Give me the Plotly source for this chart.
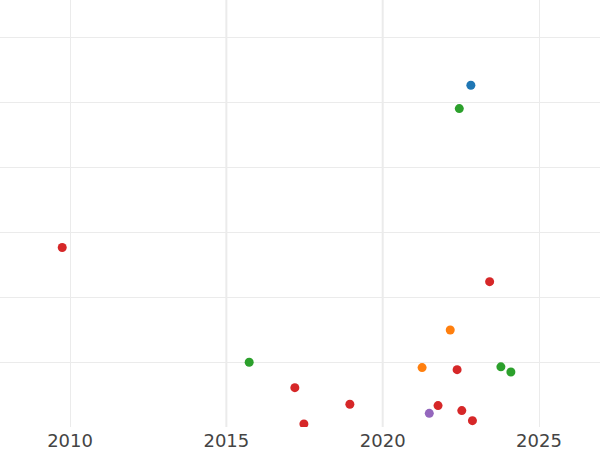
import plotly.graph_objects as go

# data
categories = ["blue", "green", "red", "orange", "purple"]
colors = {"blue": "#1f77b4", "green": "#2ca02c", "red": "#d62728",
          "orange": "#ff7f0e", "purple": "#9467bd"}

blue_x = [2022.82]
blue_y = [52.6]
green_x = [2022.45, 2015.73, 2023.78, 2024.10]
green_y = [49.0, 10.0, 9.3, 8.5]
red_x = [2009.75, 2017.19, 2023.42, 2022.38, 2018.95, 2017.48, 2021.77, 2022.53, 2022.87]
red_y = [27.65, 6.1, 22.4, 8.87, 3.54, 0.51, 3.34, 2.57, 1.03]
orange_x = [2022.16, 2021.26]
orange_y = [14.97, 9.18]
purple_x = [2021.49]
purple_y = [2.15]

x_ticks = [2010, 2015, 2020, 2025]
x_tick_labels = ["2010", "2015", "2020", "2025"]
y_grid = [10, 20, 30, 40, 50, 60]
highlight_years = [2015, 2020]

series = {
    "blue": (blue_x, blue_y),
    "green": (green_x, green_y),
    "red": (red_x, red_y),
    "orange": (orange_x, orange_y),
    "purple": (purple_x, purple_y),
}

fig = go.Figure()
for name in categories:
    xs, ys = series[name]
    fig.add_trace(go.Scatter(x=xs, y=ys, mode="markers", name=name,
                             marker=dict(size=9, color=colors[name])))

for yr in highlight_years:
    fig.add_shape(type="line", xref="x", yref="paper", x0=yr, x1=yr, y0=0, y1=1,
                  line=dict(color="#ebebeb", width=2), layer="below")

fig.update_layout(
    width=600, height=450,
    margin=dict(l=0, r=0, t=0, b=23, autoexpand=False),
    paper_bgcolor="white", plot_bgcolor="white",
    showlegend=False,
    font=dict(family="DejaVu Sans", color="#444444", size=18),
    xaxis=dict(range=[2007.76, 2026.95], tickvals=x_ticks, ticktext=x_tick_labels,
               showgrid=True, gridcolor="#ebebeb", gridwidth=1, zeroline=False,
               showline=False, ticks="", ticklen=0, ticklabelstandoff=1,
               automargin=False),
    yaxis=dict(range=[0.05, 65.7], tickvals=y_grid, showticklabels=False,
               showgrid=True, gridcolor="#ebebeb", gridwidth=1, zeroline=False,
               showline=False, ticks="", automargin=False),
)

fig.write_html("out.html", config={"displayModeBar": False},
               post_script="document.body.style.margin='0';")
